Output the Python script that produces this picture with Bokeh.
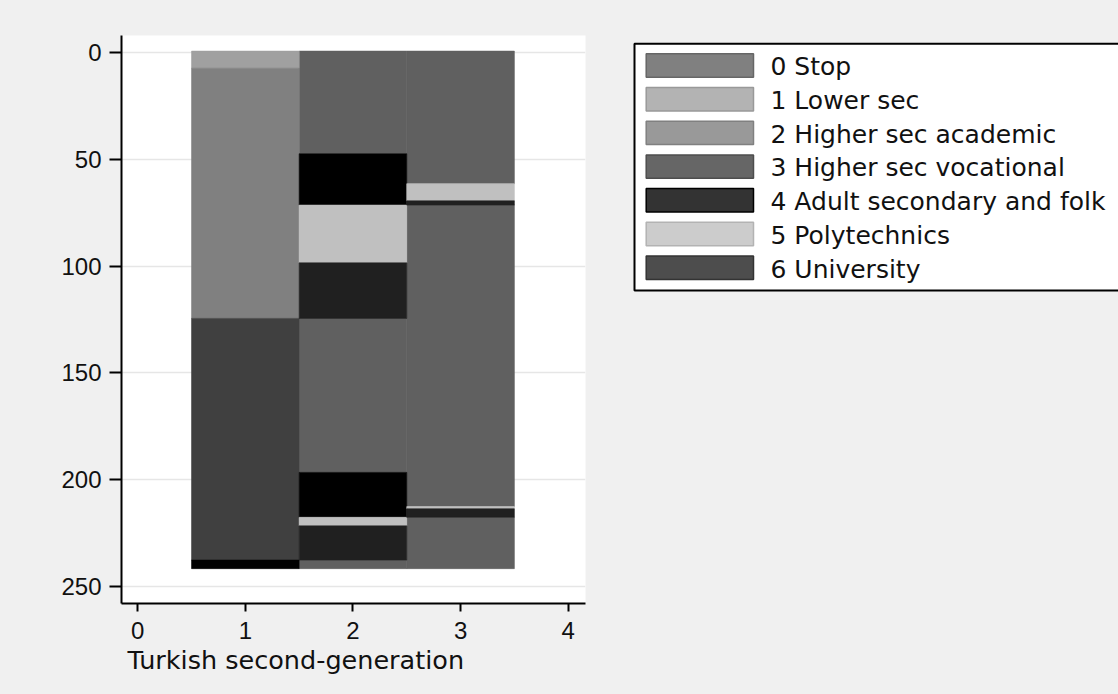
import numpy as np
from bokeh.plotting import figure
from bokeh.layouts import row
from bokeh.models import Range1d, FixedTicker, Title, ColumnDataSource
from bokeh.core.properties import value
from bokeh.embed import file_html
from bokeh.resources import INLINE

# ---- data ----
states = ["0 Stop", "1 Lower sec", "2 Higher sec academic",
          "3 Higher sec vocational", "4 Adult secondary and folk",
          "5 Polytechnics", "6 University"]
plot_colors = ["#606060", "#a0a0a0", "#808080", "#404040", "#000000",
               "#c0c0c0", "#202020"]
legend_fill = ["#808080", "#b3b3b3", "#999999", "#666666", "#333333",
               "#cccccc", "#4d4d4d"]
legend_line = ["#666666", "#999999", "#808080", "#4d4d4d", "#000000",
               "#b3b3b3", "#333333"]

positions = [1, 2, 3]
col1_states = [1, 2, 3, 4]
col1_counts = [8, 117, 113, 4]
col2_states = [0, 4, 5, 6, 0, 4, 5, 6, 0]
col2_counts = [48, 24, 27, 26, 72, 21, 4, 16, 4]
col3_states = [0, 5, 6, 0, 5, 6, 0]
col3_counts = [62, 8, 2, 141, 1, 4, 24]

x_ticks = [0, 1, 2, 3, 4]
y_ticks = [0, 50, 100, 150, 200, 250]
x_title = "Turkish second-generation"

TICK_FONT = "Liberation Sans"
TEXT_FONT = "DejaVu Sans"
BG = "#f0f0f0"
W, H = 1118, 694
TOP, BOTTOM = 35, 91

# ---------------- main plot ----------------
p = figure(width=620, height=H, output_backend="svg", toolbar_location=None,
           x_range=Range1d(-0.151, 4.161), y_range=Range1d(257.8, -7.8),
           min_border_left=121, min_border_right=35, min_border_top=TOP,
           min_border_bottom=BOTTOM)
p.border_fill_color = BG
p.background_fill_color = "#ffffff"
p.outline_line_color = None

cols = [(positions[0], col1_states, col1_counts),
        (positions[1], col2_states, col2_counts),
        (positions[2], col3_states, col3_counts)]
seg = {k: dict(left=[], right=[], top=[], bottom=[]) for k in range(len(states))}
for pos, sts, cnts in cols:
    cum = np.concatenate([[0], np.cumsum(cnts)]) - 0.5
    for i, s in enumerate(sts):
        seg[s]["left"].append(pos - 0.5)
        seg[s]["right"].append(pos + 0.5)
        seg[s]["bottom"].append(cum[i])
        seg[s]["top"].append(cum[i + 1])

for k in range(len(states)):
    p.quad(source=ColumnDataSource(seg[k]), left="left", right="right",
           top="top", bottom="bottom", fill_color=plot_colors[k],
           line_color=plot_colors[k], line_width=0.6)

p.xaxis.ticker = FixedTicker(ticks=x_ticks)
p.yaxis.ticker = FixedTicker(ticks=y_ticks)
for ax in (p.xaxis, p.yaxis):
    ax.axis_line_color = "black"
    ax.axis_line_width = 2
    ax.major_tick_line_color = "black"
    ax.major_tick_line_width = 2
    ax.major_tick_in = 0
    ax.minor_tick_line_color = None
    ax.major_label_text_font = TICK_FONT
    ax.major_label_text_font_size = "24px"
    ax.major_label_text_color = "#111111"
p.yaxis.major_tick_out = 12
p.yaxis.major_label_standoff = 8
p.xaxis.major_tick_out = 8
p.xaxis.major_label_standoff = 10

p.xgrid.grid_line_color = None
p.ygrid.grid_line_color = "#e6e6e6"
p.ygrid.grid_line_width = 1.5

p.add_layout(Title(text=x_title, align="left", offset=6, standoff=3,
                   text_font=TEXT_FONT, text_font_size="25.5px",
                   text_font_style="normal", text_color="#111111"), "below")

# ---------------- legend panel ----------------
LW = W - 620
q = figure(width=LW, height=H, output_backend="svg", toolbar_location=None,
           x_range=Range1d(0, LW), y_range=Range1d(H - BOTTOM, TOP),
           x_axis_type=None, y_axis_type=None,
           min_border_left=0, min_border_right=0,
           min_border_top=TOP, min_border_bottom=BOTTOM)
q.border_fill_color = BG
q.background_fill_color = BG
q.outline_line_color = None
q.grid.grid_line_color = None

# legend box (extends past the right edge)
q.quad(left=[14], right=[LW + 40], top=[43.3], bottom=[290],
       fill_color="white", line_color="black", line_width=2)

idx = np.arange(len(states))
row_top = 53.3 + 33.7 * idx
q.quad(left=25.7, right=133, top=row_top, bottom=row_top + 23.4,
       fill_color=legend_fill, line_color=legend_line, line_width=1.5)
q.text(x=150, y=row_top + 13, text=states, text_font=value(TEXT_FONT),
       text_font_size="25px", text_color="#111111",
       text_baseline="alphabetic", text_align="left")

layout = row(p, q, styles={"background-color": BG})
open("out.html", "w").write(file_html(layout, INLINE))
